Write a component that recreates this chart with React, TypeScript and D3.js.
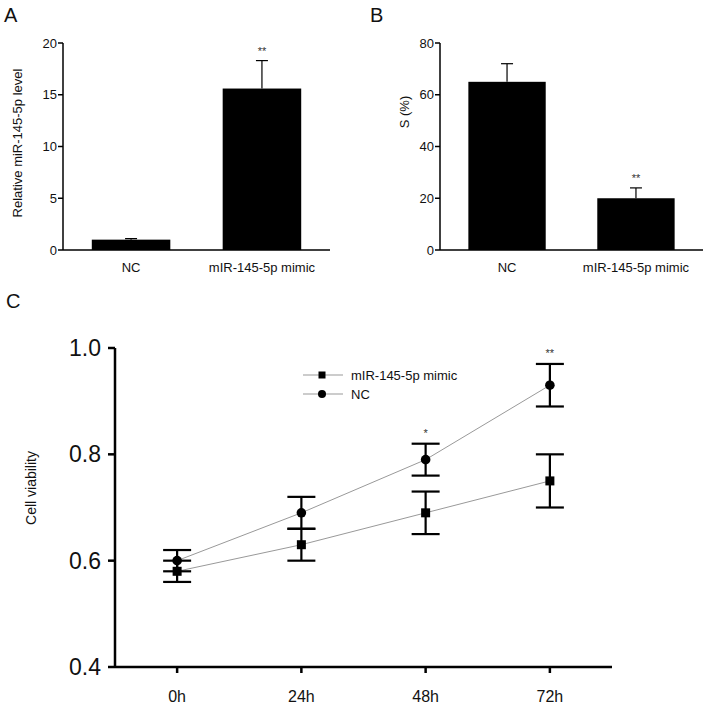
import React from 'react'
import * as d3 from 'd3'

const barGroups = ['NC', 'mIR-145-5p mimic']
const relativeLevel = [1.0, 15.6]
const relativeLevelErr = [0.1, 2.7]
const relativeStars = ['', '**']
const relativeTicks = [0, 5, 10, 15, 20]

const sPercent = [65, 20]
const sPercentErr = [7, 4]
const sStars = ['', '**']
const sTicks = [0, 20, 40, 60, 80]

const timePoints = ['0h', '24h', '48h', '72h']
const mimicViability = [0.58, 0.63, 0.69, 0.75]
const mimicErr = [0.02, 0.03, 0.04, 0.05]
const ncViability = [0.6, 0.69, 0.79, 0.93]
const ncErr = [0.02, 0.03, 0.03, 0.04]
const viabilityStars = ['', '', '*', '**']
const viabilityTicks = [0.4, 0.6, 0.8, 1.0]

const font = '"Liberation Sans", Arial, Helvetica, sans-serif'

interface BarPanelProps {
  x0: number
  x1: number
  yTop: number
  yBottom: number
  max: number
  ticks: number[]
  values: number[]
  errors: number[]
  stars: string[]
  title: string
  titleX: number
  titleY: number
}

const BarPanel: React.FC<BarPanelProps> = ({ x0, x1, yTop, yBottom, max, ticks, values, errors, stars, title, titleX, titleY }) => {
  const xScale = d3.scaleBand().domain(barGroups).range([x0, x1]).paddingInner(0.4).paddingOuter(0.22)
  const yScale = d3.scaleLinear().domain([0, max]).range([yBottom, yTop])
  const bw = xScale.bandwidth()

  return (
    <g fontFamily={font}>
      <line x1={x0} x2={x0} y1={yTop} y2={yBottom} stroke="#000" strokeWidth={1.5} />
      <line x1={x0} x2={x1} y1={yBottom} y2={yBottom} stroke="#000" strokeWidth={1.5} />
      {ticks.map((t) => (
        <g key={t}>
          <line x1={x0 - 5} x2={x0} y1={yScale(t)} y2={yScale(t)} stroke="#000" strokeWidth={1.5} />
          <text x={x0 - 6} y={yScale(t) + 4.5} textAnchor="end" fontSize={13} fill="#111">
            {t}
          </text>
        </g>
      ))}
      {barGroups.map((g, i) => {
        const bx = xScale(g) ?? 0
        const cx = bx + bw / 2
        return (
          <g key={g}>
            <line x1={cx} x2={cx} y1={yScale(values[i])} y2={yScale(values[i] + errors[i])} stroke="#000" strokeWidth={1.2} />
            <line x1={cx - 6} x2={cx + 6} y1={yScale(values[i] + errors[i])} y2={yScale(values[i] + errors[i])} stroke="#000" strokeWidth={1.2} />
            <rect x={bx} y={yScale(values[i])} width={bw} height={yBottom - yScale(values[i])} fill="#000" />
            {stars[i] && (
              <text x={cx} y={yScale(values[i] + errors[i]) - 6} textAnchor="middle" fontSize={11} fill="#333">
                {stars[i]}
              </text>
            )}
            <text x={cx} y={yBottom + 22} textAnchor="middle" fontSize={13} fill="#111">
              {g}
            </text>
          </g>
        )
      })}
      <text transform={`translate(${titleX},${titleY}) rotate(-90)`} textAnchor="middle" fontSize={13} fill="#111">
        {title}
      </text>
    </g>
  )
}

const LinePanel: React.FC = () => {
  const x0 = 115
  const x1 = 612
  const yTop = 348
  const yBottom = 667
  const xScale = d3.scalePoint().domain(timePoints).range([x0, x1]).padding(0.5)
  const yScale = d3.scaleLinear().domain([0.4, 1.0]).range([yBottom, yTop])
  const lineGen = d3
    .line<number>()
    .x((_, i) => xScale(timePoints[i]) ?? 0)
    .y((d) => yScale(d))

  const series = [
    { name: 'mIR-145-5p mimic', values: mimicViability, errors: mimicErr, shape: 'square' },
    { name: 'NC', values: ncViability, errors: ncErr, shape: 'circle' }
  ]

  const marker = (shape: string, x: number, y: number) =>
    shape === 'square' ? (
      <rect x={x - 4.5} y={y - 4.5} width={9} height={9} fill="#000" />
    ) : (
      <circle cx={x} cy={y} r={4.8} fill="#000" />
    )

  return (
    <g fontFamily={font}>
      {series.map((s) => (
        <path key={s.name} d={lineGen(s.values) ?? ''} fill="none" stroke="#999" strokeWidth={1} />
      ))}
      {series.map((s) =>
        s.values.map((v, i) => {
          const cx = xScale(timePoints[i]) ?? 0
          const lo = yScale(v - s.errors[i])
          const hi = yScale(v + s.errors[i])
          return (
            <g key={`${s.name}-${i}`}>
              <line x1={cx} x2={cx} y1={lo} y2={hi} stroke="#000" strokeWidth={2.2} />
              <line x1={cx - 14} x2={cx + 14} y1={lo} y2={lo} stroke="#000" strokeWidth={2.2} />
              <line x1={cx - 14} x2={cx + 14} y1={hi} y2={hi} stroke="#000" strokeWidth={2.2} />
              {marker(s.shape, cx, yScale(v))}
            </g>
          )
        })
      )}
      {viabilityStars.map((st, i) =>
        st ? (
          <text key={i} x={xScale(timePoints[i]) ?? 0} y={yScale(ncViability[i] + ncErr[i]) - 7} textAnchor="middle" fontSize={11} fill="#333">
            {st}
          </text>
        ) : null
      )}
      <line x1={x0} x2={x0} y1={yTop} y2={yBottom} stroke="#000" strokeWidth={2.5} />
      <line x1={x0} x2={x1} y1={yBottom} y2={yBottom} stroke="#000" strokeWidth={2.5} />
      {viabilityTicks.map((t) => (
        <g key={t}>
          <line x1={x0 - 7} x2={x0} y1={yScale(t)} y2={yScale(t)} stroke="#000" strokeWidth={2.5} />
          <text x={x0 - 14} y={yScale(t) + 8} textAnchor="end" fontSize={23} fill="#111">
            {t.toFixed(1)}
          </text>
        </g>
      ))}
      {timePoints.map((t) => (
        <g key={t}>
          <line x1={xScale(t) ?? 0} x2={xScale(t) ?? 0} y1={yBottom} y2={yBottom + 6} stroke="#000" strokeWidth={2.5} />
          <text x={xScale(t) ?? 0} y={yBottom + 35} textAnchor="middle" fontSize={16} fill="#111">
            {t}
          </text>
        </g>
      ))}
      <text transform={`translate(${36},${488}) rotate(-90)`} textAnchor="middle" fontSize={14} fill="#111">
        Cell viability
      </text>
      {series.map((s, i) => {
        const ly = 375 + i * 19
        return (
          <g key={`legend-${s.name}`}>
            <line x1={303} x2={343} y1={ly} y2={ly} stroke="#999" strokeWidth={1} />
            {s.shape === 'square' ? (
              <rect x={322 - 3.5} y={ly - 3.5} width={7} height={7} fill="#000" />
            ) : (
              <circle cx={322} cy={ly} r={4} fill="#000" />
            )}
            <text x={351} y={ly + 5} fontSize={13} fill="#111">
              {s.name}
            </text>
          </g>
        )
      })}
    </g>
  )
}

export default function App() {
  return (
    <div style={{ position: 'absolute', left: 0, top: 0 }}>
      <svg width={709} height={705} style={{ display: 'block', background: '#fff' }}>
        <text x={4} y={22} fontFamily={font} fontSize={20} fill="#111">A</text>
        <text x={370} y={22} fontFamily={font} fontSize={20} fill="#111">B</text>
        <text x={6} y={308} fontFamily={font} fontSize={20} fill="#111">C</text>
        <BarPanel
          x0={63}
          x1={330}
          yTop={43}
          yBottom={250}
          max={20}
          ticks={relativeTicks}
          values={relativeLevel}
          errors={relativeLevelErr}
          stars={relativeStars}
          title="Relative miR-145-5p level"
          titleX={22}
          titleY={143}
        />
        <BarPanel
          x0={440}
          x1={703}
          yTop={43}
          yBottom={250}
          max={80}
          ticks={sTicks}
          values={sPercent}
          errors={sPercentErr}
          stars={sStars}
          title="S (%)"
          titleX={409}
          titleY={112}
        />
        <LinePanel />
      </svg>
    </div>
  )
}
